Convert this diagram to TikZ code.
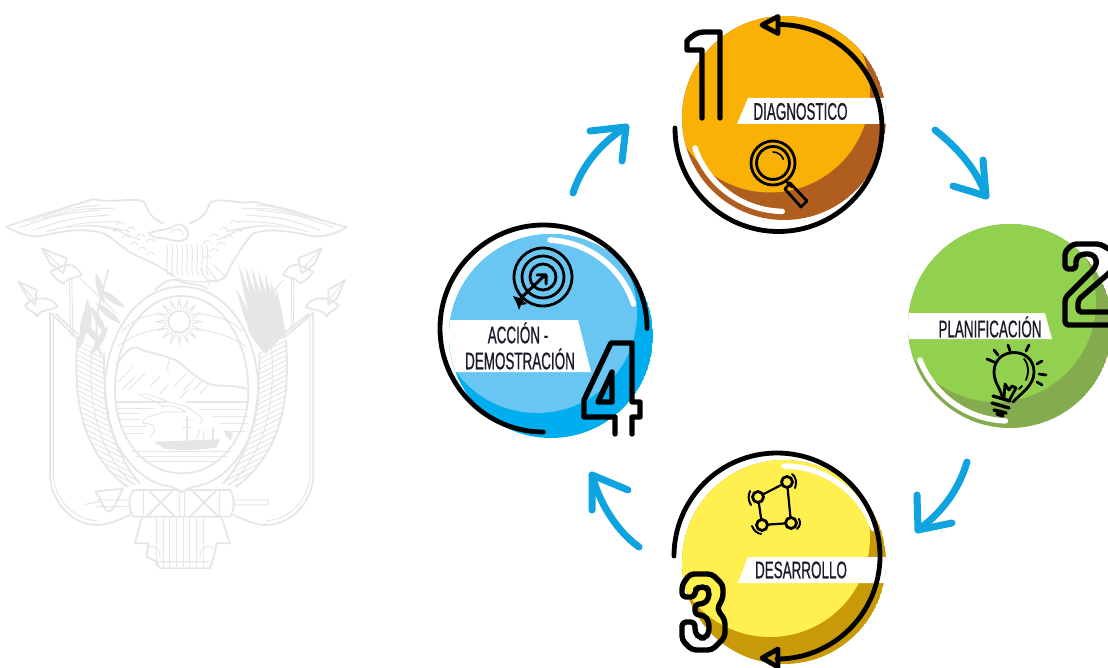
\documentclass[tikz,border=0pt]{standalone}
\usepackage{fontspec}
\setmainfont[FakeStretch=0.56,FakeBold=0.7]{Liberation Sans}
\definecolor{orangeL}{HTML}{F8B104}
\definecolor{orangeD}{HTML}{AF5E20}
\definecolor{greenL}{HTML}{92D150}
\definecolor{greenD}{HTML}{84AC4E}
\definecolor{yellowL}{HTML}{FFF04F}
\definecolor{yellowD}{HTML}{C99A08}
\definecolor{blueL}{HTML}{69C6F3}
\definecolor{blueD}{HTML}{00AEEF}
\definecolor{arrowblue}{HTML}{0FA3DF}
\definecolor{coat}{HTML}{E5E7E7}
\definecolor{txt}{HTML}{1B1B2C}
\tikzset{
  ring/.style={draw=black,line width=4.8,line cap=round,line join=round},
  shine/.style={draw=white,line width=5.5,line cap=round},
  digit/.style={draw=black,line width=5.4,line cap=round,line join=round},
  ico/.style={draw=black,line width=2.8,line cap=round,line join=round},
  flow/.style={draw=arrowblue,line width=7,line cap=round,line join=round},
  lab/.style={font=\fontsize{24}{26}\selectfont,text=txt,inner sep=0,align=center},
  cl/.style={draw=coat,line width=1,line cap=round,line join=round},
  cb/.style={draw=coat,line width=1.8,line cap=round,line join=round}
}
\begin{document}
\begin{tikzpicture}[x=1pt,y=-1pt]
\useasboundingbox (0,0) rectangle (1108,668);
\fill[white] (0,0) rectangle (1108,668);
\begin{scope}
\clip (0,0) rectangle (1108,668);
% ---------- coat of arms (zoom coordinates, scaled) ----------
\begin{scope}[shift={(0,190)},scale=1/3]
 % wings
 \draw[cb] (20,110) .. controls (90,85) and (190,55) .. (280,27) .. controls (340,42) and (400,20) .. (432,35) .. controls (445,60) and (450,85) .. (490,100);
 \draw[cb] (20,110) .. controls (60,135) and (100,145) .. (140,135) .. controls (200,120) and (260,115) .. (310,130) .. controls (350,150) and (380,190) .. (430,205) .. controls (470,225) and (500,240) .. (520,260);
 \draw[cb] (1040,112) .. controls (960,90) and (860,55) .. (760,35) .. controls (720,45) and (660,20) .. (630,38) .. controls (620,65) and (610,85) .. (570,100);
 \draw[cb] (1040,112) .. controls (1000,135) and (960,145) .. (920,135) .. controls (860,122) and (800,115) .. (760,130) .. controls (730,160) and (710,200) .. (690,230) .. controls (680,265) and (660,280) .. (620,270);
 \foreach \a/\b/\c/\d in {60/112/300/60,100/120/330/75,140/125/360/95,200/112/390/125,250/105/420/150,90/95/300/45,130/85/340/55,
   1000/112/770/60,960/120/740/75,920/125/710/95,860/112/680/125,810/105/650/150,970/95/770/45,930/85/730/55}
   {\draw[cl] (\a,\b) .. controls ({(\a+\c)/2},{(\b+\d)/2-14}) .. (\c,\d);}
 \foreach \x/\y in {340/125,365/145,390/165,415/180,440/195,350/105,380/120,410/140,440/155,700/125,675/145,650/165,630/185,610/205,690/100,660/120,630/140,610/160}
   {\draw[cl] (\x,\y) arc[start angle=200,end angle=340,radius=13];}
 % head and body
 \draw[cb] (445,130) .. controls (470,120) and (500,120) .. (515,112) .. controls (535,95) and (565,105) .. (565,135) .. controls (560,160) and (520,155) .. (495,145) .. controls (475,145) and (460,145) .. (445,130);
 \draw[cl] (510,128) .. controls (525,110) and (550,115) .. (548,135);
 \foreach \x in {500,515,...,620} {\draw[cl] (\x,165) .. controls ({\x+8},205) and ({\x-6},225) .. ({\x+4},255);}
 \draw[cl] (515,250) .. controls (530,275) and (570,275) .. (620,275);
 \draw[cl] (640,225) -- (680,265) (620,230) -- (655,278) (600,235) -- (630,285);
 % claws
 \draw[cb] (465,300) .. controls (490,275) and (515,265) .. (530,270) .. controls (560,285) and (600,280) .. (620,295);
 % shield
 \draw[cb] (545,290) .. controls (690,290) and (775,450) .. (775,600) .. controls (775,760) and (680,880) .. (580,890) -- (545,905) -- (515,890) .. controls (410,880) and (315,760) .. (315,600) .. controls (315,450) and (400,290) .. (545,290);
 \draw[cb] (545,318) .. controls (670,318) and (745,460) .. (745,600) .. controls (745,740) and (660,850) .. (545,850) .. controls (430,850) and (345,740) .. (345,600) .. controls (345,460) and (420,318) .. (545,318);
 % sun
 \draw[cb] (538,395) circle[radius=33];
 \foreach \a in {0,22.5,...,337.5} {\draw[cl] ({538+40*cos(\a-7)},{395+40*sin(\a-7)}) -- ({538+70*cos(\a)},{395+70*sin(\a)}) -- ({538+40*cos(\a+7)},{395+40*sin(\a+7)});}
 \draw[cl] (365,425) .. controls (400,385) and (440,375) .. (480,372) (600,372) .. controls (650,378) and (700,390) .. (725,425);
 \draw[cl] (352,470) .. controls (390,440) and (430,425) .. (490,415) (590,415) .. controls (640,425) and (700,440) .. (738,470);
 % mountain
 \draw[cb] (350,520) .. controls (370,500) and (385,470) .. (410,472) .. controls (440,490) and (480,490) .. (510,505) .. controls (540,505) and (580,570) .. (640,585) .. controls (680,590) and (720,585) .. (745,600);
 \draw[cl] (510,505) .. controls (505,520) and (500,530) .. (505,545);
 \foreach \x/\y/\l in {355/575/45,365/600/40,385/600/50,450/590/30,480/610/25,520/590/40,550/600/35,580/600/30,540/625/25,600/610/25}
   {\draw[cl] (\x,\y) -- ++(\l,-\l);}
 % river and water
 \draw[cl] (415,610) .. controls (440,630) and (470,630) .. (490,650) .. controls (520,640) and (540,660) .. (560,665) .. controls (530,670) and (500,660) .. (480,670) .. controls (440,680) and (420,690) .. (430,700) .. controls (470,700) and (470,720) .. (450,740);
 \draw[cl] (430,610) .. controls (470,620) and (510,640) .. (560,650) .. controls (590,670) and (620,690) .. (600,700);
 \draw[cb] (347,636) -- (500,636) (560,636) -- (745,636);
 \foreach \y/\a/\b in {655/350/460,672/352/420,690/355/420,710/360/440,730/370/430,660/600/740,680/640/742,700/660/742,725/670/735,785/395/700,800/410/680,815/430/650}
   {\draw[cl] (\a,\y) -- (\b,\y);}
 % ship
 \fill[coat] (462,755) -- (660,748) -- (650,772) .. controls (600,782) and (530,782) .. (490,775) -- cycle;
 \draw[cb] (560,680) -- (560,752) (640,715) -- (640,750);
 \draw[cl] (548,712) -- (572,712) (550,690) -- (570,690) (590,745) -- (600,720) (610,745) -- (612,722);
 \fill[coat] (675,718) -- (700,730) -- (692,750) -- (676,738) -- cycle;
 % flags, left
 \draw[cb] (150,370) -- (150,860) .. controls (155,940) and (220,1005) .. (290,1005) .. controls (330,1005) and (365,985) .. (390,975);
 \draw[cl] (160,372) -- (160,860) .. controls (165,930) and (225,990) .. (290,992);
 \draw[cb] (150,368) -- (232,445) (168,372) -- (232,432);
 \draw[cb] (55,275) -- (110,300) -- (105,345) -- (85,325) -- cycle;
 \draw[cl] (55,275) -- (100,325);
 \draw[cb] (75,345) .. controls (95,325) and (150,310) .. (172,350) .. controls (150,365) and (120,355) .. (112,380) .. controls (100,360) and (85,365) .. (75,345);
 \draw[cb] (125,175) -- (200,205) -- (190,250) -- (150,220) -- cycle;
 \draw[cl] (125,175) -- (185,235);
 \draw[cb] (150,245) .. controls (175,235) and (215,200) .. (245,255) .. controls (225,265) and (200,265) .. (190,280) .. controls (170,270) and (160,260) .. (150,245);
 \draw[cl] (208,262) -- (212,440) (215,262) -- (219,440) (240,265) -- (350,370);
 % flags, right
 \draw[cb] (940,370) -- (940,860) .. controls (935,940) and (870,1005) .. (800,1005) .. controls (760,1005) and (725,985) .. (700,975);
 \draw[cl] (930,372) -- (930,860) .. controls (925,930) and (865,990) .. (800,992);
 \draw[cb] (940,368) -- (850,445) (925,372) -- (850,432);
 \draw[cb] (1035,270) -- (985,300) -- (985,345) -- (1010,325) -- cycle;
 \draw[cl] (1035,270) -- (990,325);
 \draw[cb] (1015,345) .. controls (995,325) and (940,310) .. (918,350) .. controls (940,365) and (970,355) .. (980,380) .. controls (990,360) and (1005,365) .. (1015,345);
 \draw[cb] (965,175) -- (895,205) -- (905,250) -- (945,220) -- cycle;
 \draw[cl] (965,175) -- (910,235);
 \draw[cb] (940,245) .. controls (915,235) and (875,200) .. (850,255) .. controls (870,265) and (890,265) .. (900,280) .. controls (920,270) and (930,260) .. (940,245);
 \draw[cl] (882,262) -- (880,410) (875,262) -- (873,420) (850,270) -- (760,370);
 % laurel
 \foreach \x/\y/\r in {300/295/105,335/325/-35,265/375/95,250/410/85,295/390/-60,325/370/-40,275/430/-50,245/440/70,300/450/60} {
   \begin{scope}[shift={(\x,\y)},rotate=\r]
    \fill[coat] (-48,0) .. controls (-20,-13) and (20,-13) .. (48,0) .. controls (20,13) and (-20,13) .. (-48,0);
   \end{scope}}
 \draw[cb] (325,240) .. controls (300,330) and (270,420) .. (305,500);
 % palm strands
 \foreach \x/\y/\bx/\by in {715/220/795/490,735/225/805/480,755/232/815/470,775/240/825/460,795/250/832/450,812/270/840/445,828/295/846/440,708/295/790/485,718/330/800/480,735/370/785/480} {
   \fill[coat] (\x,\y) .. controls ({(\x+\bx)/2-14},{(\y+\by)/2+6}) .. (\bx,\by) -- ({\bx+11},{\by-4}) .. controls ({(\x+\bx)/2+10},{(\y+\by)/2-4}) .. (\x,\y);}
 % hatched wings of the shield
 \begin{scope}
  \clip (232,450) .. controls (220,620) and (240,780) .. (380,890) -- (420,880) .. controls (330,780) and (310,640) .. (312,490) -- cycle;
  \foreach \y in {420,435,...,1000} {\draw[cl] (200,\y) -- (430,{\y+115});}
 \end{scope}
 \begin{scope}
  \clip (858,450) .. controls (870,620) and (850,780) .. (710,890) -- (670,880) .. controls (760,780) and (780,640) .. (778,490) -- cycle;
  \foreach \y in {420,435,...,1000} {\draw[cl] (890,\y) -- (660,{\y+115});}
 \end{scope}
 \draw[cb] (232,450) .. controls (220,620) and (240,780) .. (380,890) (312,490) .. controls (310,640) and (330,780) .. (420,880);
 \draw[cb] (858,450) .. controls (870,620) and (850,780) .. (710,890) (778,490) .. controls (780,640) and (760,780) .. (670,880);
 \draw[cl] (275,480) .. controls (265,640) and (290,780) .. (400,885) (815,480) .. controls (825,640) and (800,780) .. (690,885);
 % fasces
 \draw[cb] (400,900) -- (530,900) -- (545,905) -- (560,900) -- (690,900) .. controls (705,920) and (705,960) .. (690,980) -- (400,980) .. controls (385,960) and (385,920) .. (400,900);
 \draw[cl] (540,905) -- (540,980) (555,905) -- (555,980) (430,900) -- (430,980) (660,900) -- (660,980);
 \draw[cb] (440,980) -- (520,900) (445,900) -- (525,980) (570,980) -- (650,900) (575,900) -- (655,980);
 % axe shaft
 \draw[cl] (255,943) -- (300,935) (290,930) -- (390,930) (290,950) -- (390,950) (700,930) -- (805,930) -- (805,945) -- (700,945);
 \draw[cb] (285,905) .. controls (310,900) and (350,900) .. (370,895) .. controls (350,930) and (345,960) .. (325,965) .. controls (310,960) and (305,925) .. (285,905);
 % ribbons
 \draw[cb] (425,985) -- (405,1060) -- (445,1060) -- (440,1100) -- (470,1115) -- (480,1135) -- (630,1135) -- (640,1105) -- (650,1060) -- (690,1060) -- (665,985);
 \foreach \x in {470,490,...,610} {\draw[cl] (\x,985) -- (\x,1130);}
 \draw[cl] (440,1075) .. controls (460,1060) and (480,1075) .. (480,1100) (640,1075) .. controls (620,1060) and (600,1075) .. (600,1100) (470,1115) -- (630,1115);
\end{scope}

% ---------- step 1 ----------
\coordinate (c1) at (784,118);
\coordinate (r1) at (778.5,128);
\begin{scope}
 \clip (c1) circle[radius=102];
 \fill[orangeD] (c1) circle[radius=102];
 \fill[orangeL] (770,92.5) circle[radius=100];
 \fill[white] (748,98) -- (900,98) -- (900,124) -- (737,124) -- cycle;
\end{scope}
\draw[shine] (695,148) arc[start angle=161,end angle=91,radius=94];
\draw[ring] (675,128) arc[start angle=180,end angle=-90,radius=103.5];
\draw[ring] (762,25) -- (778,16.5) -- (778,33.5) -- cycle;
\node[lab] (t1) at (800.5,111.5) {DIAGNOSTICO};
\draw[ico] (773,163) circle[radius=22] (773,163) circle[radius=16.5];
\draw[ico,line width=1.6] (773,152) arc[start angle=-90,end angle=-20,radius=11];
\draw[ico] (786,181) -- (792,187) (790,183) -- (807,201) -- (801,207) -- (785,189) -- cycle;
\draw[digit] (702,118) -- (702,50) -- (687,50) -- (687,41) .. controls (693,35) and (697,32) .. (704,32) -- (720,32) -- (720,118);

% ---------- step 2 ----------
\coordinate (c2) at (1010,326);
\begin{scope}
 \clip (c2) circle[radius=102];
 \fill[greenD] (c2) circle[radius=102];
 \fill[greenL] (996,302) circle[radius=100];
 \fill[white] (900,313) -- (1045,313) -- (1052,339) -- (900,339) -- cycle;
\end{scope}
\draw[shine] (920,360) arc[start angle=159,end angle=92,radius=95];
\node[lab] (t2) at (990,327) {PLANIFICACIÓN};
\draw[ico] (1002,396) .. controls (1000,388) and (994,382) .. (994,372) .. controls (994,346) and (1034,346) .. (1034,372) .. controls (1034,386) and (1020,394) .. (1013,402);
\draw[ico,line width=1.8] (1024,359) .. controls (1029,365) and (1029,372) .. (1026,380) (1022,386) -- (1019,389);
\draw[ico] (1004,398) -- (1005,384) -- (1009,390) -- (1012,386) -- (1016,388) -- (1009,401);
\draw[ico,line width=3.4] (993,396) -- (1010,401) (992,403) -- (1009,408) (994,410) -- (1006,413) (997,414) -- (1003,416);
\foreach \a/\b/\c/\d in {987/359/994/362,994/350/998/355,1008/345/1010/351,1029/345/1026/351,1042/361/1037/364,1046/375/1039/374,1042/385/1037/382}
 {\draw[ico] (\a,\b) -- (\c,\d);}
\draw[digit,rounded corners=3.5] (1065,269) -- (1065,258) .. controls (1065,250) and (1072,244) .. (1080,244) -- (1100,244) -- (1114,252) -- (1114,268) -- (1108,274) -- (1078,300) -- (1078,312) -- (1114,312) -- (1114,325) -- (1065,325) -- (1065,298) -- (1095,268) -- (1097,260) -- (1092,254) -- (1082,254) -- (1076,258) -- (1076,269) -- cycle;

% ---------- step 3 ----------
\coordinate (c3) at (784,562);
\begin{scope}
 \clip (c3) circle[radius=102];
 \fill[yellowD] (c3) circle[radius=102];
 \fill[yellowL] (770,537) circle[radius=100];
 \fill[white] (748,557) -- (900,557) -- (900,583) -- (738,583) -- cycle;
\end{scope}
\draw[shine] (784,466) arc[start angle=-90,end angle=-20,radius=95];
\draw[ring] (674,556) arc[start angle=180,end angle=450,radius=103];
\draw[ring] (762,658) -- (778,649) -- (778,667) -- cycle;
\node[lab] (t3) at (801,570) {DESARROLLO};
\draw[ico,line width=2.2] (758,497) -- (787,482) -- (791,523) -- (762,525) -- cycle;
\foreach \x/\y in {758/497,787/482,791/523,762/525}
 {\fill[yellowL] (\x,\y) circle[radius=5.5]; \draw[ico] (\x,\y) circle[radius=5.5];}
\draw[ico,line width=2] (750,491) .. controls (748,496) and (748,500) .. (751,505);
\draw[ico,line width=2] (792,474) .. controls (796,477) and (797,482) .. (795,488);
\draw[ico,line width=2] (799,519) .. controls (801,523) and (800,526) .. (797,529);
\draw[ico,line width=2] (752,526) .. controls (754,531) and (757,533) .. (761,534);
\draw[digit,rounded corners=4] (682,597) -- (682,585) -- (690,574) -- (712,574) -- (723,585) -- (723,598) -- (717,609) -- (725,620) -- (725,637) -- (712,650) -- (692,650) -- (682,640) -- (682,622) -- (695,622) -- (695,633) -- (700,638) -- (705,638) -- (709,633) -- (709,622) -- (704,615) -- (695,615) -- (695,604) -- (704,604) -- (709,598) -- (709,591) -- (706,587) -- (699,587) -- (695,590) -- (695,597) -- cycle;

% ---------- step 4 ----------
\coordinate (c4) at (551,336);
\begin{scope}
 \clip (c4) circle[radius=102];
 \fill[blueD] (c4) circle[radius=102];
 \fill[blueL] (537,313) circle[radius=100];
 \fill[white] (430,320) -- (578,320) -- (591,372) -- (455,372) -- (430,350) -- cycle;
\end{scope}
\draw[shine] (550,240) arc[start angle=-87,end angle=-18,radius=93];
\draw[ring] (647,328.5) arc[start angle=0,end angle=-270,radius=103.5];
\node[lab] (t4a) at (518,333) {ACCIÓN -};
\node[lab] (t4b) at (520,359) {DEMOSTRACIÓN};
\draw[ico] (543,277) circle[radius=29] (543,277) circle[radius=21] (543,277) circle[radius=13];
\draw[ico,line width=3] (522,297) -- (545,275) (537,275) -- (546,275) -- (546,284);
\fill[black] (513,296) -- (519,298) -- (524,294) -- (523,301) -- (527,304) -- (521,305) -- (519,310) -- (517,304) -- cycle;
\draw[digit] (615,434) -- (615,417) -- (584,417) -- (584,400) -- (611,343) -- (632,343) -- (632,402) -- (640,402) -- (640,417) -- (632,417) -- (632,434);
\draw[digit] (612,372) -- (612,402) -- (598,402) -- cycle;

% ---------- cycle arrows ----------
\coordinate (a1s) at (935,130); \coordinate (a1e) at (986,196);
\coordinate (a2s) at (967,462); \coordinate (a2e) at (918,530);
\coordinate (a3s) at (639,547); \coordinate (a3e) at (592,475);
\coordinate (a4s) at (573,193); \coordinate (a4e) at (626,127);
\draw[flow] (a1s) .. controls (958,148) and (977,170) .. (a1e);
\draw[flow] (953,186) -- (a1e) -- (983,160);
\draw[flow] (a2s) .. controls (958,492) and (940,514) .. (a2e);
\draw[flow] (917,495) -- (a2e) -- (952,523);
\draw[flow] (a3s) .. controls (618,532) and (600,505) .. (a3e);
\draw[flow] (592,510) -- (a3e) -- (628,490);
\draw[flow] (a4s) .. controls (582,165) and (602,142) .. (a4e);
\draw[flow] (590,131) -- (a4e) -- (622,161);
\end{scope}
\end{tikzpicture}
\end{document}
